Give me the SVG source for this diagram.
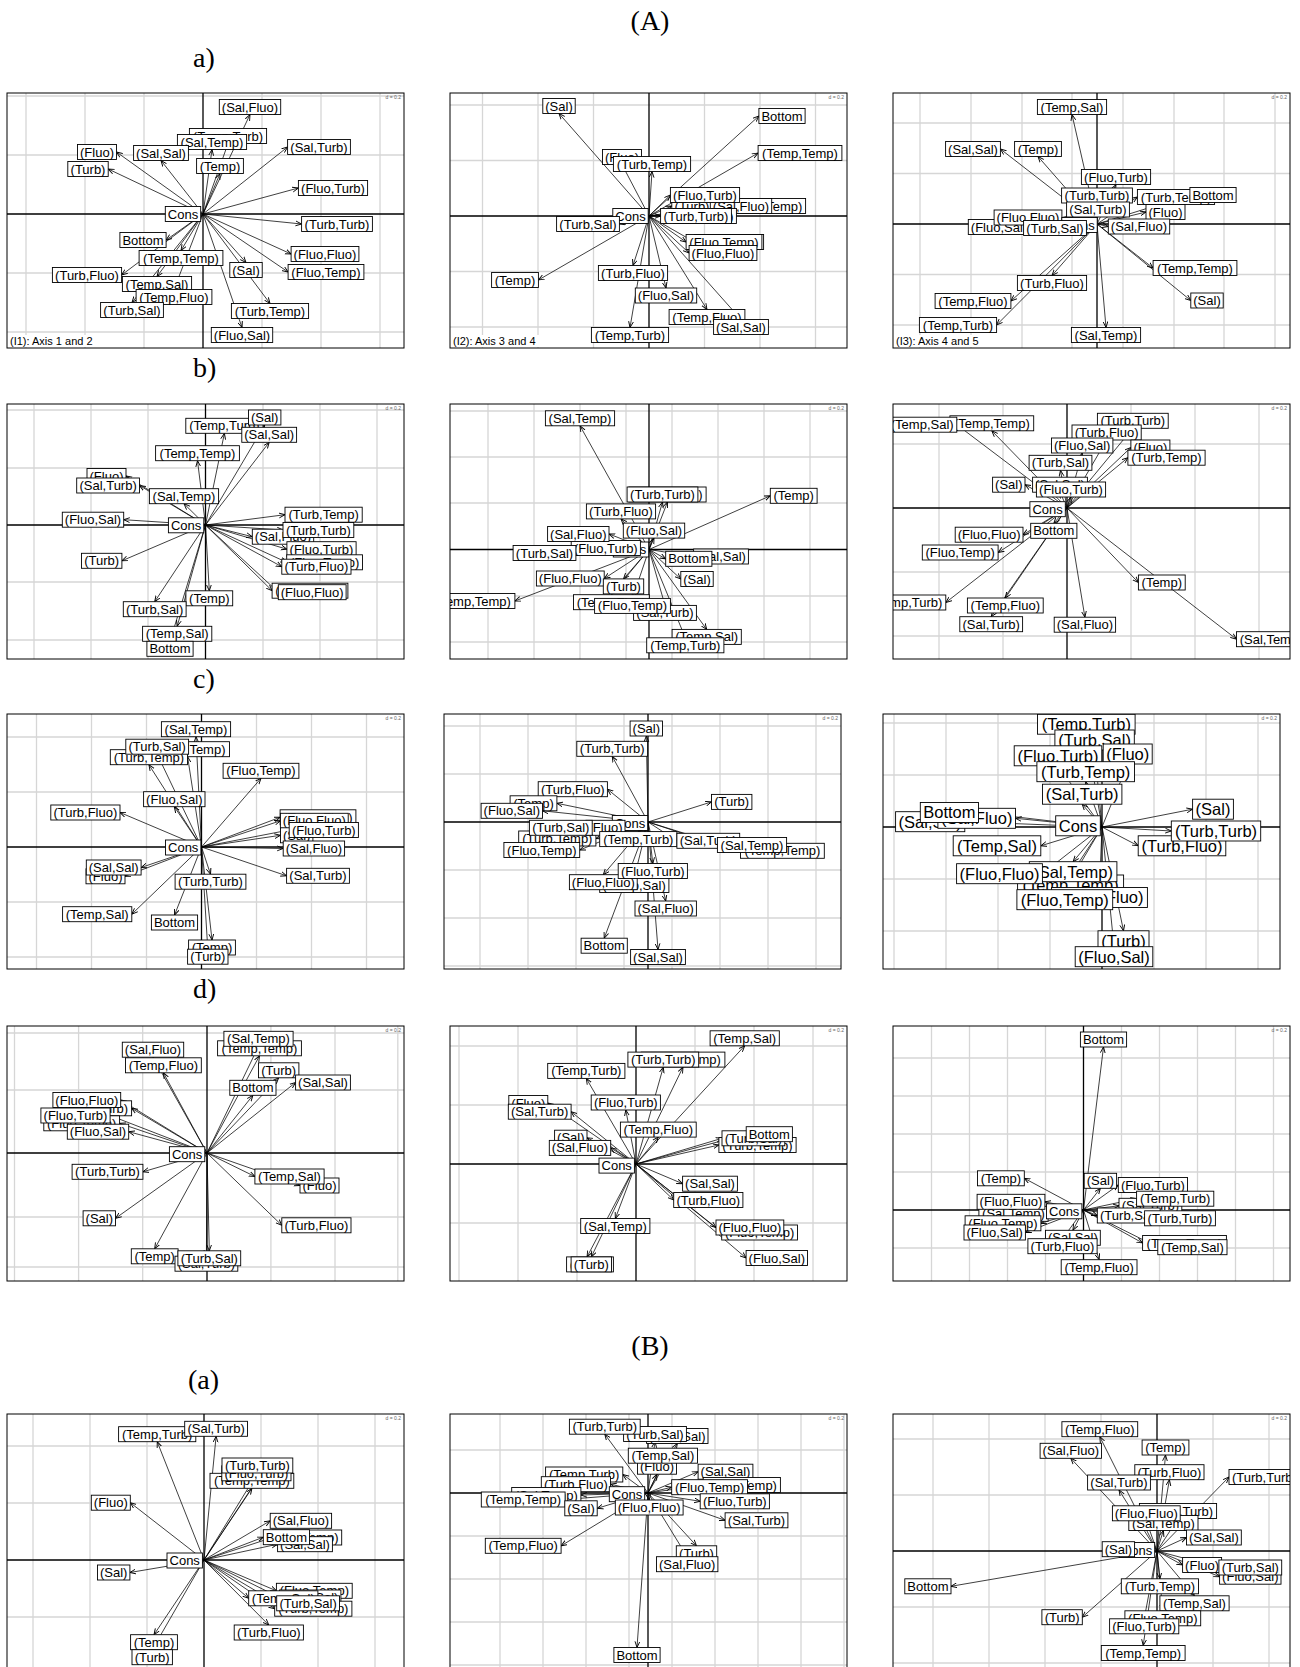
<svg xmlns="http://www.w3.org/2000/svg" width="1300" height="1667" viewBox="0 0 1300 1667">
<style>
.bg{fill:#fff}
.g{stroke:#d6d6d6;stroke-width:1.3;fill:none}
.ax{stroke:#000;stroke-width:1.3;fill:none}
.fr{fill:none;stroke:#000;stroke-width:1}
.ar line{stroke:#000;stroke-width:.75;marker-end:url(#ah)}
.lb rect{fill:#fff;stroke:#000;stroke-width:.9}
.lb text{font-family:"Liberation Sans",Arial,sans-serif;font-size:13px;text-anchor:middle;fill:#000}
.big text{font-size:16.5px}
.cap{font-family:"Liberation Sans",Arial,sans-serif;font-size:11px;fill:#000}
.dd{font-family:"Liberation Sans",Arial,sans-serif;font-size:5px;fill:#666;text-anchor:end}
.ttl{font-family:"Liberation Serif","Times New Roman",serif;font-size:28px;fill:#000}
</style>
<defs>
<marker id="ah" markerWidth="7" markerHeight="7" refX="6" refY="3" orient="auto" markerUnits="userSpaceOnUse"><path d="M0,0.6 L6,3 L0,5.4" fill="none" stroke="#000" stroke-width=".9"/></marker>
<clipPath id="ca1"><rect x="7" y="93" width="397" height="255"/></clipPath>
<clipPath id="ca2"><rect x="450" y="93" width="397" height="255"/></clipPath>
<clipPath id="ca3"><rect x="893" y="93" width="397" height="255"/></clipPath>
<clipPath id="cb1"><rect x="7" y="404" width="397" height="255"/></clipPath>
<clipPath id="cb2"><rect x="450" y="404" width="397" height="255"/></clipPath>
<clipPath id="cb3"><rect x="893" y="404" width="397" height="255"/></clipPath>
<clipPath id="cc1"><rect x="7" y="714" width="397" height="255"/></clipPath>
<clipPath id="cc2"><rect x="444" y="714" width="397" height="255"/></clipPath>
<clipPath id="cc3"><rect x="883" y="714" width="397" height="255"/></clipPath>
<clipPath id="cd1"><rect x="7" y="1026" width="397" height="255"/></clipPath>
<clipPath id="cd2"><rect x="450" y="1026" width="397" height="255"/></clipPath>
<clipPath id="cd3"><rect x="893" y="1026" width="397" height="255"/></clipPath>
<clipPath id="ce1"><rect x="7" y="1414" width="397" height="255"/></clipPath>
<clipPath id="ce2"><rect x="450" y="1414" width="397" height="255"/></clipPath>
<clipPath id="ce3"><rect x="893" y="1414" width="397" height="255"/></clipPath>
</defs>
<rect class="bg" x="0" y="0" width="1300" height="1667"/>

<g id="titles">
<text class="ttl" x="650" y="30" text-anchor="middle">(A)</text>
<text class="ttl" x="193" y="67">a)</text>
<text class="ttl" x="193" y="377">b)</text>
<text class="ttl" x="193" y="688">c)</text>
<text class="ttl" x="193" y="998">d)</text>
<text class="ttl" x="650" y="1355" text-anchor="middle">(B)</text>
<text class="ttl" x="188" y="1389">(a)</text>
</g>

<!-- ===== a1 ===== -->
<g id="panel-a1" clip-path="url(#ca1)">
<path class="g" d="M26 93V348M85 93V348M144 93V348M262 93V348M321 93V348M380 93V348M7 96H404M7 155H404M7 273H404M7 332H404"/>
<path class="ax" d="M203 93V348M7 214H404"/>
<g id="conn-a1" class="ar">
<line x1="203" y1="214" x2="250" y2="114.5"/><line x1="203" y1="214" x2="228" y2="143.5"/><line x1="203" y1="214" x2="212" y2="149.5"/><line x1="203" y1="214" x2="161" y2="160.5"/><line x1="203" y1="214" x2="116.5" y2="152"/><line x1="203" y1="214" x2="108.2" y2="169"/><line x1="203" y1="214" x2="220" y2="173.5"/><line x1="203" y1="214" x2="287.6" y2="147"/><line x1="203" y1="214" x2="298.4" y2="188"/><line x1="203" y1="214" x2="301.6" y2="224"/><line x1="203" y1="214" x2="166.1" y2="240"/><line x1="203" y1="214" x2="181" y2="250.5"/><line x1="203" y1="214" x2="291.1" y2="254"/><line x1="203" y1="214" x2="288.1" y2="272"/><line x1="203" y1="214" x2="246" y2="262.5"/><line x1="203" y1="214" x2="121.6" y2="275"/><line x1="203" y1="214" x2="157" y2="276.5"/><line x1="203" y1="214" x2="174" y2="289.5"/><line x1="203" y1="214" x2="132" y2="302.5"/><line x1="203" y1="214" x2="270" y2="303.5"/><line x1="203" y1="214" x2="242" y2="327.5"/>
</g>
<g class="lb">
<g id="a1-1"><rect x="219.3" y="99.5" width="61.4" height="15"/><text x="250" y="111.5">(Sal,Fluo)</text></g>
<g id="a1-2"><rect x="189.4" y="128.5" width="77.2" height="15"/><text x="228" y="140.5">(Temp,Turb)</text></g>
<g id="a1-3"><rect x="177.4" y="134.5" width="69.2" height="15"/><text x="212" y="146.5">(Sal,Temp)</text></g>
<g id="a1-4"><rect x="133.6" y="145.5" width="54.8" height="15"/><text x="161" y="157.5">(Sal,Sal)</text></g>
<g id="a1-5"><rect x="77.5" y="144.5" width="39" height="15"/><text x="97" y="156.5">(Fluo)</text></g>
<g id="a1-6"><rect x="67.8" y="161.5" width="40.4" height="15"/><text x="88" y="173.5">(Turb)</text></g>
<g id="a1-7"><rect x="196.6" y="158.5" width="46.8" height="15"/><text x="220" y="170.5">(Temp)</text></g>
<g id="a1-8"><rect x="287.6" y="139.5" width="62.8" height="15"/><text x="319" y="151.5">(Sal,Turb)</text></g>
<g id="a1-9"><rect x="298.4" y="180.5" width="69.2" height="15"/><text x="333" y="192.5">(Fluo,Turb)</text></g>
<g id="a1-10"><rect x="165.3" y="206.5" width="35.4" height="15"/><text x="183" y="218.5">Cons</text></g>
<g id="a1-11"><rect x="301.6" y="216.5" width="70.8" height="15"/><text x="337" y="228.5">(Turb,Turb)</text></g>
<g id="a1-12"><rect x="119.9" y="232.5" width="46.2" height="15"/><text x="143" y="244.5">Bottom</text></g>
<g id="a1-13"><rect x="139.1" y="250.5" width="83.8" height="15"/><text x="181" y="262.5">(Temp,Temp)</text></g>
<g id="a1-14"><rect x="291.1" y="246.5" width="67.8" height="15"/><text x="325" y="258.5">(Fluo,Fluo)</text></g>
<g id="a1-15"><rect x="288.1" y="264.5" width="75.8" height="15"/><text x="326" y="276.5">(Fluo,Temp)</text></g>
<g id="a1-16"><rect x="229.8" y="262.5" width="32.4" height="15"/><text x="246" y="274.5">(Sal)</text></g>
<g id="a1-17"><rect x="52.4" y="267.5" width="69.2" height="15"/><text x="87" y="279.5">(Turb,Fluo)</text></g>
<g id="a1-18"><rect x="122.4" y="276.5" width="69.2" height="15"/><text x="157" y="288.5">(Temp,Sal)</text></g>
<g id="a1-19"><rect x="136.1" y="289.5" width="75.8" height="15"/><text x="174" y="301.5">(Temp,Fluo)</text></g>
<g id="a1-20"><rect x="100.6" y="302.5" width="62.8" height="15"/><text x="132" y="314.5">(Turb,Sal)</text></g>
<g id="a1-21"><rect x="231.4" y="303.5" width="77.2" height="15"/><text x="270" y="315.5">(Turb,Temp)</text></g>
<g id="a1-22"><rect x="211.3" y="327.5" width="61.4" height="15"/><text x="242" y="339.5">(Fluo,Sal)</text></g>
</g>
<rect x="8" y="335" width="91" height="12" fill="#fff"/>
<text class="cap" x="10" y="345">(I1): Axis 1 and 2</text>
<text class="dd" x="401" y="99">d = 0.2</text>
</g>
<rect class="fr" x="7" y="93" width="397" height="255"/>

<!-- ===== a2 ===== -->
<g id="panel-a2" clip-path="url(#ca2)">
<path class="g" d="M482.5 93V348M538 93V348M593.5 93V348M704.5 93V348M760 93V348M815.5 93V348M450 105H847M450 160.5H847M450 271.5H847M450 327H847"/>
<path class="ax" d="M649 93V348M450 216H847"/>
<g id="conn-a2" class="ar">
<line x1="649" y1="216" x2="559" y2="113.5"/><line x1="649" y1="216" x2="758.9" y2="116"/><line x1="649" y1="216" x2="758.1" y2="153"/><line x1="649" y1="216" x2="622" y2="164.5"/><line x1="649" y1="216" x2="652" y2="171.5"/><line x1="649" y1="216" x2="736.4" y2="206"/><line x1="649" y1="216" x2="671.8" y2="206"/><line x1="649" y1="216" x2="710.3" y2="206"/><line x1="649" y1="216" x2="670.4" y2="195"/><line x1="649" y1="216" x2="673.6" y2="216"/><line x1="649" y1="216" x2="660.6" y2="216"/><line x1="649" y1="216" x2="619.4" y2="224"/><line x1="649" y1="216" x2="694.4" y2="242"/><line x1="649" y1="216" x2="686.1" y2="242"/><line x1="649" y1="216" x2="689.1" y2="253"/><line x1="649" y1="216" x2="538.4" y2="280"/><line x1="649" y1="216" x2="633" y2="265.5"/><line x1="649" y1="216" x2="666" y2="288"/><line x1="649" y1="216" x2="707" y2="309.5"/><line x1="649" y1="216" x2="741" y2="319.5"/><line x1="649" y1="216" x2="630" y2="327.5"/>
</g>
<g class="lb">
<g id="a2-1"><rect x="542.8" y="98.5" width="32.4" height="15"/><text x="559" y="110.5">(Sal)</text></g>
<g id="a2-2"><rect x="758.9" y="108.5" width="46.2" height="15"/><text x="782" y="120.5">Bottom</text></g>
<g id="a2-3"><rect x="758.1" y="145.5" width="83.8" height="15"/><text x="800" y="157.5">(Temp,Temp)</text></g>
<g id="a2-4"><rect x="602.5" y="149.5" width="39" height="15"/><text x="622" y="161.5">(Fluo)</text></g>
<g id="a2-5"><rect x="613.4" y="156.5" width="77.2" height="15"/><text x="652" y="168.5">(Turb,Temp)</text></g>
<g id="a2-6"><rect x="736.4" y="198.5" width="69.2" height="15"/><text x="771" y="210.5">(Sal,Temp)</text></g>
<g id="a2-7"><rect x="671.8" y="198.5" width="40.4" height="15"/><text x="692" y="210.5">(Turb)</text></g>
<g id="a2-8"><rect x="710.3" y="198.5" width="61.4" height="15"/><text x="741" y="210.5">(Sal,Fluo)</text></g>
<g id="a2-9"><rect x="670.4" y="187.5" width="69.2" height="15"/><text x="705" y="199.5">(Fluo,Turb)</text></g>
<g id="a2-10"><rect x="673.6" y="208.5" width="62.8" height="15"/><text x="705" y="220.5">(Sal,Turb)</text></g>
<g id="a2-11"><rect x="612.8" y="208.5" width="35.4" height="15"/><text x="630.5" y="220.5">Cons</text></g>
<g id="a2-12"><rect x="660.6" y="208.5" width="70.8" height="15"/><text x="696" y="220.5">(Turb,Turb)</text></g>
<g id="a2-13"><rect x="556.6" y="216.5" width="62.8" height="15"/><text x="588" y="228.5">(Turb,Sal)</text></g>
<g id="a2-14"><rect x="694.4" y="234.5" width="69.2" height="15"/><text x="729" y="246.5">(Temp,Sal)</text></g>
<g id="a2-15"><rect x="686.1" y="234.5" width="75.8" height="15"/><text x="724" y="246.5">(Fluo,Temp)</text></g>
<g id="a2-16"><rect x="689.1" y="245.5" width="67.8" height="15"/><text x="723" y="257.5">(Fluo,Fluo)</text></g>
<g id="a2-17"><rect x="491.6" y="272.5" width="46.8" height="15"/><text x="515" y="284.5">(Temp)</text></g>
<g id="a2-18"><rect x="598.4" y="265.5" width="69.2" height="15"/><text x="633" y="277.5">(Turb,Fluo)</text></g>
<g id="a2-19"><rect x="635.3" y="288" width="61.4" height="15"/><text x="666" y="300">(Fluo,Sal)</text></g>
<g id="a2-20"><rect x="669.1" y="309.5" width="75.8" height="15"/><text x="707" y="321.5">(Temp,Fluo)</text></g>
<g id="a2-21"><rect x="713.6" y="319.5" width="54.8" height="15"/><text x="741" y="331.5">(Sal,Sal)</text></g>
<g id="a2-22"><rect x="591.4" y="327.5" width="77.2" height="15"/><text x="630" y="339.5">(Temp,Turb)</text></g>
</g>
<rect x="451" y="335" width="91" height="12" fill="#fff"/>
<text class="cap" x="453" y="345">(I2): Axis 3 and 4</text>
<text class="dd" x="844" y="99">d = 0.2</text>
</g>
<rect class="fr" x="450" y="93" width="397" height="255"/>

<!-- ===== a3 ===== -->
<g id="panel-a3" clip-path="url(#ca3)">
<path class="g" d="M920 93V348M971 93V348M1022 93V348M1072 93V348M1123 93V348M1174 93V348M1224 93V348M1275 93V348M893 123H1290M893 173.5H1290M893 274.5H1290M893 325H1290"/>
<path class="ax" d="M1097 93V348M893 224H1290"/>
<g id="conn-a3" class="ar">
<line x1="1097" y1="224" x2="1072" y2="114.5"/><line x1="1097" y1="224" x2="1000.4" y2="149"/><line x1="1097" y1="224" x2="1038" y2="156.5"/><line x1="1097" y1="224" x2="1116" y2="184.5"/><line x1="1097" y1="224" x2="1097" y2="203"/><line x1="1097" y1="224" x2="1137.4" y2="197"/><line x1="1097" y1="224" x2="1189.9" y2="195"/><line x1="1097" y1="224" x2="1146" y2="212"/><line x1="1097" y1="224" x2="1029.7" y2="227"/><line x1="1097" y1="224" x2="1061.9" y2="217.5"/><line x1="1097" y1="224" x2="1108.3" y2="226.5"/><line x1="1097" y1="224" x2="1153.1" y2="268"/><line x1="1097" y1="224" x2="1052" y2="275.5"/><line x1="1097" y1="224" x2="1190.8" y2="300.5"/><line x1="1097" y1="224" x2="1010.9" y2="301"/><line x1="1097" y1="224" x2="996.6" y2="325"/><line x1="1097" y1="224" x2="1106" y2="327.5"/>
</g>
<g class="lb">
<g id="a3-1"><rect x="1037.4" y="99.5" width="69.2" height="15"/><text x="1072" y="111.5">(Temp,Sal)</text></g>
<g id="a3-2"><rect x="945.6" y="141.5" width="54.8" height="15"/><text x="973" y="153.5">(Sal,Sal)</text></g>
<g id="a3-3"><rect x="1014.6" y="141.5" width="46.8" height="15"/><text x="1038" y="153.5">(Temp)</text></g>
<g id="a3-4"><rect x="1081.4" y="169.5" width="69.2" height="15"/><text x="1116" y="181.5">(Fluo,Turb)</text></g>
<g id="a3-5"><rect x="1061.6" y="188" width="70.8" height="15"/><text x="1097" y="200">(Turb,Turb)</text></g>
<g id="a3-6"><rect x="1137.4" y="189.5" width="77.2" height="15"/><text x="1176" y="201.5">(Turb,Temp)</text></g>
<g id="a3-7"><rect x="1189.9" y="187.5" width="46.2" height="15"/><text x="1213" y="199.5">Bottom</text></g>
<g id="a3-8"><rect x="1066.6" y="202" width="62.8" height="15"/><text x="1098" y="214">(Sal,Turb)</text></g>
<g id="a3-9"><rect x="1146" y="204.5" width="39" height="15"/><text x="1165.5" y="216.5">(Fluo)</text></g>
<g id="a3-10"><rect x="968.3" y="219.5" width="61.4" height="15"/><text x="999" y="231.5">(Fluo,Sal)</text></g>
<g id="a3-11"><rect x="994.1" y="210" width="67.8" height="15"/><text x="1028" y="222">(Fluo,Fluo)</text></g>
<g id="a3-12"><rect x="1061.8" y="217.5" width="35.4" height="15"/><text x="1079.5" y="229.5">Cons</text></g>
<g id="a3-13"><rect x="1023.6" y="220.5" width="62.8" height="15"/><text x="1055" y="232.5">(Turb,Sal)</text></g>
<g id="a3-14"><rect x="1108.3" y="219" width="61.4" height="15"/><text x="1139" y="231">(Sal,Fluo)</text></g>
<g id="a3-15"><rect x="1153.1" y="260.5" width="83.8" height="15"/><text x="1195" y="272.5">(Temp,Temp)</text></g>
<g id="a3-16"><rect x="1017.4" y="275.5" width="69.2" height="15"/><text x="1052" y="287.5">(Turb,Fluo)</text></g>
<g id="a3-17"><rect x="1190.8" y="293" width="32.4" height="15"/><text x="1207" y="305">(Sal)</text></g>
<g id="a3-18"><rect x="935.1" y="293.5" width="75.8" height="15"/><text x="973" y="305.5">(Temp,Fluo)</text></g>
<g id="a3-19"><rect x="919.4" y="317.5" width="77.2" height="15"/><text x="958" y="329.5">(Temp,Turb)</text></g>
<g id="a3-20"><rect x="1071.4" y="327.5" width="69.2" height="15"/><text x="1106" y="339.5">(Sal,Temp)</text></g>
</g>
<rect x="894" y="335" width="91" height="12" fill="#fff"/>
<text class="cap" x="896" y="345">(I3): Axis 4 and 5</text>
<text class="dd" x="1287" y="99">d = 0.2</text>
</g>
<rect class="fr" x="893" y="93" width="397" height="255"/>

<!-- ===== b1 ===== -->
<g id="panel-b1" clip-path="url(#cb1)">
<path class="g" d="M34 404V659M91 404V659M148 404V659M263 404V659M320 404V659M377 404V659M7 410H404M7 468H404M7 582H404M7 640H404"/>
<path class="ax" d="M205.5 404V659M7 525H404"/>
<g id="conn-b1" class="ar">
<line x1="205.5" y1="525" x2="224.4" y2="433.3"/><line x1="205.5" y1="525" x2="264.7" y2="425"/><line x1="205.5" y1="525" x2="269.2" y2="442.3"/><line x1="205.5" y1="525" x2="197.5" y2="460.7"/><line x1="205.5" y1="525" x2="126" y2="476"/><line x1="205.5" y1="525" x2="139.5" y2="485.5"/><line x1="205.5" y1="525" x2="184" y2="503.7"/><line x1="205.5" y1="525" x2="252.3" y2="536.7"/><line x1="205.5" y1="525" x2="285" y2="514.7"/><line x1="205.5" y1="525" x2="283" y2="530"/><line x1="205.5" y1="525" x2="286.9" y2="549.2"/><line x1="205.5" y1="525" x2="286.7" y2="562.3"/><line x1="205.5" y1="525" x2="281.8" y2="566.7"/><line x1="205.5" y1="525" x2="272.1" y2="590.7"/><line x1="205.5" y1="525" x2="278.3" y2="592.2"/><line x1="205.5" y1="525" x2="123.7" y2="519.7"/><line x1="205.5" y1="525" x2="121.9" y2="560.8"/><line x1="205.5" y1="525" x2="209.3" y2="590.8"/><line x1="205.5" y1="525" x2="154.7" y2="601.7"/><line x1="205.5" y1="525" x2="177.2" y2="626.3"/><line x1="205.5" y1="525" x2="170" y2="641.3"/>
</g>
<g class="lb">
<g id="b1-1"><rect x="185.8" y="418.3" width="77.2" height="15"/><text x="224.4" y="430.3">(Temp,Turb)</text></g>
<g id="b1-2"><rect x="248.5" y="410" width="32.4" height="15"/><text x="264.7" y="422">(Sal)</text></g>
<g id="b1-3"><rect x="241.8" y="427.3" width="54.8" height="15"/><text x="269.2" y="439.3">(Sal,Sal)</text></g>
<g id="b1-4"><rect x="155.6" y="445.7" width="83.8" height="15"/><text x="197.5" y="457.7">(Temp,Temp)</text></g>
<g id="b1-5"><rect x="87" y="468.5" width="39" height="15"/><text x="106.5" y="480.5">(Fluo)</text></g>
<g id="b1-6"><rect x="76.7" y="478" width="62.8" height="15"/><text x="108.1" y="490">(Sal,Turb)</text></g>
<g id="b1-7"><rect x="149.4" y="488.7" width="69.2" height="15"/><text x="184" y="500.7">(Sal,Temp)</text></g>
<g id="b1-8"><rect x="252.3" y="529.2" width="61.4" height="15"/><text x="283" y="541.2">(Sal,Fluo)</text></g>
<g id="b1-9"><rect x="285" y="507.2" width="77.2" height="15"/><text x="323.6" y="519.2">(Turb,Temp)</text></g>
<g id="b1-10"><rect x="283" y="522.5" width="70.8" height="15"/><text x="318.4" y="534.5">(Turb,Turb)</text></g>
<g id="b1-11"><rect x="286.9" y="541.7" width="69.2" height="15"/><text x="321.5" y="553.7">(Fluo,Turb)</text></g>
<g id="b1-12"><rect x="286.7" y="554.8" width="75.8" height="15"/><text x="324.6" y="566.8">(Fluo,Temp)</text></g>
<g id="b1-13"><rect x="281.8" y="559.2" width="69.2" height="15"/><text x="316.4" y="571.2">(Turb,Fluo)</text></g>
<g id="b1-14"><rect x="272.1" y="583.2" width="75.8" height="15"/><text x="310" y="595.2">(Temp,Fluo)</text></g>
<g id="b1-15"><rect x="278.3" y="584.7" width="67.8" height="15"/><text x="312.2" y="596.7">(Fluo,Fluo)</text></g>
<g id="b1-16"><rect x="62.3" y="512.2" width="61.4" height="15"/><text x="93" y="524.2">(Fluo,Sal)</text></g>
<g id="b1-17"><rect x="168.4" y="517.8" width="35.4" height="15"/><text x="186.1" y="529.8">Cons</text></g>
<g id="b1-18"><rect x="81.5" y="553.3" width="40.4" height="15"/><text x="101.7" y="565.3">(Turb)</text></g>
<g id="b1-19"><rect x="185.9" y="590.8" width="46.8" height="15"/><text x="209.3" y="602.8">(Temp)</text></g>
<g id="b1-20"><rect x="123.3" y="601.7" width="62.8" height="15"/><text x="154.7" y="613.7">(Turb,Sal)</text></g>
<g id="b1-21"><rect x="142.6" y="626.3" width="69.2" height="15"/><text x="177.2" y="638.3">(Temp,Sal)</text></g>
<g id="b1-22"><rect x="146.9" y="641.3" width="46.2" height="15"/><text x="170" y="653.3">Bottom</text></g>
</g>
<text class="dd" x="401" y="410">d = 0.2</text>
</g>
<rect class="fr" x="7" y="404" width="397" height="255"/>

<!-- ===== b2 ===== -->
<g id="panel-b2" clip-path="url(#cb2)">
<path class="g" d="M488 404V659M534 404V659M580 404V659M626 404V659M672 404V659M718 404V659M764 404V659M810 404V659M450 411H847M450 457H847M450 503H847M450 596H847M450 642H847"/>
<path class="ax" d="M649 404V659M450 549.5H847"/>
<g id="conn-b2" class="ar">
<line x1="649" y1="549.5" x2="580" y2="425.8"/><line x1="649" y1="549.5" x2="667.5" y2="502"/><line x1="649" y1="549.5" x2="662.5" y2="502"/><line x1="649" y1="549.5" x2="621" y2="518.9"/><line x1="649" y1="549.5" x2="654" y2="538.1"/><line x1="649" y1="549.5" x2="609" y2="534"/><line x1="649" y1="549.5" x2="640.4" y2="548"/><line x1="649" y1="549.5" x2="575.9" y2="553"/><line x1="649" y1="549.5" x2="770.3" y2="495.8"/><line x1="649" y1="549.5" x2="693.6" y2="556.5"/><line x1="649" y1="549.5" x2="665.7" y2="558.8"/><line x1="649" y1="549.5" x2="604.2" y2="578.5"/><line x1="649" y1="549.5" x2="680.8" y2="579"/><line x1="649" y1="549.5" x2="623.5" y2="578.9"/><line x1="649" y1="549.5" x2="611.4" y2="594.7"/><line x1="649" y1="549.5" x2="665" y2="605.4"/><line x1="649" y1="549.5" x2="632.5" y2="598.4"/><line x1="649" y1="549.5" x2="706.7" y2="629.4"/><line x1="649" y1="549.5" x2="685.3" y2="637.8"/><line x1="649" y1="549.5" x2="514.9" y2="601"/>
</g>
<g class="lb">
<g id="b2-1"><rect x="545.4" y="410.8" width="69.2" height="15"/><text x="580" y="422.8">(Sal,Temp)</text></g>
<g id="b2-2"><rect x="628.9" y="487" width="77.2" height="15"/><text x="667.5" y="499">(Turb,Temp)</text></g>
<g id="b2-3"><rect x="627.1" y="487" width="70.8" height="15"/><text x="662.5" y="499">(Turb,Turb)</text></g>
<g id="b2-4"><rect x="586.4" y="503.9" width="69.2" height="15"/><text x="621" y="515.9">(Turb,Fluo)</text></g>
<g id="b2-5"><rect x="623.3" y="523.1" width="61.4" height="15"/><text x="654" y="535.1">(Fluo,Sal)</text></g>
<g id="b2-6"><rect x="613.3" y="542" width="35.4" height="15"/><text x="631" y="554">Cons</text></g>
<g id="b2-7"><rect x="571.2" y="540.5" width="69.2" height="15"/><text x="605.8" y="552.5">(Fluo,Turb)</text></g>
<g id="b2-8"><rect x="547.6" y="526.5" width="61.4" height="15"/><text x="578.3" y="538.5">(Sal,Fluo)</text></g>
<g id="b2-9"><rect x="513.1" y="545.5" width="62.8" height="15"/><text x="544.5" y="557.5">(Turb,Sal)</text></g>
<g id="b2-10"><rect x="770.3" y="488.3" width="46.8" height="15"/><text x="793.7" y="500.3">(Temp)</text></g>
<g id="b2-11"><rect x="693.6" y="549" width="54.8" height="15"/><text x="721" y="561">(Sal,Sal)</text></g>
<g id="b2-12"><rect x="665.7" y="551.3" width="46.2" height="15"/><text x="688.8" y="563.3">Bottom</text></g>
<g id="b2-13"><rect x="536.4" y="571" width="67.8" height="15"/><text x="570.3" y="583">(Fluo,Fluo)</text></g>
<g id="b2-14"><rect x="680.8" y="571.5" width="32.4" height="15"/><text x="697" y="583.5">(Sal)</text></g>
<g id="b2-15"><rect x="603.3" y="578.9" width="40.4" height="15"/><text x="623.5" y="590.9">(Turb)</text></g>
<g id="b2-16"><rect x="573.5" y="594.7" width="75.8" height="15"/><text x="611.4" y="606.7">(Temp,Fluo)</text></g>
<g id="b2-17"><rect x="633.6" y="605.4" width="62.8" height="15"/><text x="665" y="617.4">(Sal,Turb)</text></g>
<g id="b2-18"><rect x="594.6" y="598.4" width="75.8" height="15"/><text x="632.5" y="610.4">(Fluo,Temp)</text></g>
<g id="b2-19"><rect x="672.1" y="629.4" width="69.2" height="15"/><text x="706.7" y="641.4">(Temp,Sal)</text></g>
<g id="b2-20"><rect x="646.7" y="637.8" width="77.2" height="15"/><text x="685.3" y="649.8">(Temp,Turb)</text></g>
<g id="b2-21"><rect x="431.1" y="593.5" width="83.8" height="15"/><text x="473" y="605.5">(Temp,Temp)</text></g>
</g>
<text class="dd" x="844" y="410">d = 0.2</text>
</g>
<rect class="fr" x="450" y="404" width="397" height="255"/>

<!-- ===== b3 ===== -->
<g id="panel-b3" clip-path="url(#cb3)">
<path class="g" d="M939 404V659M1003 404V659M1131 404V659M1195 404V659M1259 404V659M893 444H1290M893 572H1290M893 636H1290"/>
<path class="ax" d="M1067 404V659M893 508H1290"/>
<g id="conn-b3" class="ar">
<line x1="1067" y1="508" x2="956.8" y2="424.7"/><line x1="1067" y1="508" x2="991.8" y2="430.8"/><line x1="1067" y1="508" x2="1132.8" y2="428.3"/><line x1="1067" y1="508" x2="1106.6" y2="440"/><line x1="1067" y1="508" x2="1082.2" y2="453"/><line x1="1067" y1="508" x2="1130.9" y2="447.5"/><line x1="1067" y1="508" x2="1127.9" y2="457.7"/><line x1="1067" y1="508" x2="1060.5" y2="470.3"/><line x1="1067" y1="508" x2="1025" y2="484.7"/><line x1="1067" y1="508" x2="1060" y2="492.2"/><line x1="1067" y1="508" x2="1071" y2="497"/><line x1="1067" y1="508" x2="1053.8" y2="523.3"/><line x1="1067" y1="508" x2="1023" y2="534.7"/><line x1="1067" y1="508" x2="998.1" y2="552.5"/><line x1="1067" y1="508" x2="1138.4" y2="582.5"/><line x1="1067" y1="508" x2="945.8" y2="602.5"/><line x1="1067" y1="508" x2="1005.3" y2="598"/><line x1="1067" y1="508" x2="991.2" y2="616.7"/><line x1="1067" y1="508" x2="1084.9" y2="617.2"/><line x1="1067" y1="508" x2="1236.5" y2="639.2"/>
</g>
<g class="lb">
<g id="b3-1"><rect x="949.9" y="415.8" width="83.8" height="15"/><text x="991.8" y="427.8">(Temp,Temp)</text></g>
<g id="b3-2"><rect x="887.6" y="417.2" width="69.2" height="15"/><text x="922.2" y="429.2">(Temp,Sal)</text></g>
<g id="b3-3"><rect x="1097.4" y="413.3" width="70.8" height="15"/><text x="1132.8" y="425.3">(Turb,Turb)</text></g>
<g id="b3-4"><rect x="1072" y="425" width="69.2" height="15"/><text x="1106.6" y="437">(Turb,Fluo)</text></g>
<g id="b3-5"><rect x="1051.5" y="438" width="61.4" height="15"/><text x="1082.2" y="450">(Fluo,Sal)</text></g>
<g id="b3-6"><rect x="1130.9" y="440" width="39" height="15"/><text x="1150.4" y="452">(Fluo)</text></g>
<g id="b3-7"><rect x="1127.9" y="450.2" width="77.2" height="15"/><text x="1166.5" y="462.2">(Turb,Temp)</text></g>
<g id="b3-8"><rect x="1029.1" y="455.3" width="62.8" height="15"/><text x="1060.5" y="467.3">(Turb,Sal)</text></g>
<g id="b3-9"><rect x="992.6" y="477.2" width="32.4" height="15"/><text x="1008.8" y="489.2">(Sal)</text></g>
<g id="b3-10"><rect x="1032.6" y="477.2" width="54.8" height="15"/><text x="1060" y="489.2">(Sal,Sal)</text></g>
<g id="b3-11"><rect x="1036.4" y="482" width="69.2" height="15"/><text x="1071" y="494">(Fluo,Turb)</text></g>
<g id="b3-12"><rect x="1029.9" y="501.7" width="35.4" height="15"/><text x="1047.6" y="513.7">Cons</text></g>
<g id="b3-13"><rect x="1030.7" y="523.3" width="46.2" height="15"/><text x="1053.8" y="535.3">Bottom</text></g>
<g id="b3-14"><rect x="955.2" y="527.2" width="67.8" height="15"/><text x="989.1" y="539.2">(Fluo,Fluo)</text></g>
<g id="b3-15"><rect x="922.3" y="545" width="75.8" height="15"/><text x="960.2" y="557">(Fluo,Temp)</text></g>
<g id="b3-16"><rect x="1138.4" y="575" width="46.8" height="15"/><text x="1161.8" y="587">(Temp)</text></g>
<g id="b3-17"><rect x="868.6" y="595" width="77.2" height="15"/><text x="907.2" y="607">(Temp,Turb)</text></g>
<g id="b3-18"><rect x="967.4" y="598" width="75.8" height="15"/><text x="1005.3" y="610">(Temp,Fluo)</text></g>
<g id="b3-19"><rect x="959.8" y="616.7" width="62.8" height="15"/><text x="991.2" y="628.7">(Sal,Turb)</text></g>
<g id="b3-20"><rect x="1054.2" y="617.2" width="61.4" height="15"/><text x="1084.9" y="629.2">(Sal,Fluo)</text></g>
<g id="b3-21"><rect x="1236.5" y="631.7" width="69.2" height="15"/><text x="1271.1" y="643.7">(Sal,Temp)</text></g>
</g>
<text class="dd" x="1287" y="410">d = 0.2</text>
</g>
<rect class="fr" x="893" y="404" width="397" height="255"/>

<!-- ===== c1 ===== -->
<g id="panel-c1" clip-path="url(#cc1)">
<path class="g" d="M36.5 714V969M91.5 714V969M146.5 714V969M256.5 714V969M311.5 714V969M366.5 714V969M7 737H404M7 792H404M7 902H404M7 957H404"/>
<path class="ax" d="M201.5 714V969M7 847H404"/>
<g id="conn-c1" class="ar">
<line x1="201.5" y1="847" x2="196" y2="736.7"/><line x1="201.5" y1="847" x2="187.6" y2="756.7"/><line x1="201.5" y1="847" x2="148.9" y2="764.7"/><line x1="201.5" y1="847" x2="157.2" y2="754.2"/><line x1="201.5" y1="847" x2="261" y2="778.3"/><line x1="201.5" y1="847" x2="174.3" y2="806.7"/><line x1="201.5" y1="847" x2="120" y2="812.5"/><line x1="201.5" y1="847" x2="280.1" y2="817.3"/><line x1="201.5" y1="847" x2="280.4" y2="820.8"/><line x1="201.5" y1="847" x2="280.5" y2="835.3"/><line x1="201.5" y1="847" x2="289.2" y2="830"/><line x1="201.5" y1="847" x2="283.2" y2="848.5"/><line x1="201.5" y1="847" x2="286.6" y2="875.8"/><line x1="201.5" y1="847" x2="125" y2="876.3"/><line x1="201.5" y1="847" x2="141.1" y2="867.5"/><line x1="201.5" y1="847" x2="210.5" y2="874.2"/><line x1="201.5" y1="847" x2="131.8" y2="914.2"/><line x1="201.5" y1="847" x2="174.5" y2="915"/><line x1="201.5" y1="847" x2="212" y2="940"/><line x1="201.5" y1="847" x2="207.8" y2="949.2"/>
</g>
<g class="lb">
<g id="c1-1"><rect x="145.7" y="741.7" width="83.8" height="15"/><text x="187.6" y="753.7">(Temp,Temp)</text></g>
<g id="c1-2"><rect x="110.3" y="749.7" width="77.2" height="15"/><text x="148.9" y="761.7">(Turb,Temp)</text></g>
<g id="c1-3"><rect x="125.8" y="739.2" width="62.8" height="15"/><text x="157.2" y="751.2">(Turb,Sal)</text></g>
<g id="c1-4"><rect x="161.4" y="721.7" width="69.2" height="15"/><text x="196" y="733.7">(Sal,Temp)</text></g>
<g id="c1-5"><rect x="223.1" y="763.3" width="75.8" height="15"/><text x="261" y="775.3">(Fluo,Temp)</text></g>
<g id="c1-6"><rect x="143.6" y="791.7" width="61.4" height="15"/><text x="174.3" y="803.7">(Fluo,Sal)</text></g>
<g id="c1-7"><rect x="50.8" y="805" width="69.2" height="15"/><text x="85.4" y="817">(Turb,Fluo)</text></g>
<g id="c1-8"><rect x="280.1" y="809.8" width="75.8" height="15"/><text x="318" y="821.8">(Temp,Fluo)</text></g>
<g id="c1-9"><rect x="280.4" y="813.3" width="67.8" height="15"/><text x="314.3" y="825.3">(Fluo,Fluo)</text></g>
<g id="c1-10"><rect x="280.5" y="827.8" width="32.4" height="15"/><text x="296.7" y="839.8">(Sal)</text></g>
<g id="c1-11"><rect x="289.2" y="822.5" width="69.2" height="15"/><text x="323.8" y="834.5">(Fluo,Turb)</text></g>
<g id="c1-12"><rect x="283.2" y="841" width="61.4" height="15"/><text x="313.9" y="853">(Sal,Fluo)</text></g>
<g id="c1-13"><rect x="286.6" y="868.3" width="62.8" height="15"/><text x="318" y="880.3">(Sal,Turb)</text></g>
<g id="c1-14"><rect x="165.5" y="840" width="35.4" height="15"/><text x="183.2" y="852">Cons</text></g>
<g id="c1-15"><rect x="86" y="868.8" width="39" height="15"/><text x="105.5" y="880.8">(Fluo)</text></g>
<g id="c1-16"><rect x="86.3" y="860" width="54.8" height="15"/><text x="113.7" y="872">(Sal,Sal)</text></g>
<g id="c1-17"><rect x="175.1" y="874.2" width="70.8" height="15"/><text x="210.5" y="886.2">(Turb,Turb)</text></g>
<g id="c1-18"><rect x="62.6" y="906.7" width="69.2" height="15"/><text x="97.2" y="918.7">(Temp,Sal)</text></g>
<g id="c1-19"><rect x="151.4" y="915" width="46.2" height="15"/><text x="174.5" y="927">Bottom</text></g>
<g id="c1-20"><rect x="188.6" y="940" width="46.8" height="15"/><text x="212" y="952">(Temp)</text></g>
<g id="c1-21"><rect x="187.6" y="949.2" width="40.4" height="15"/><text x="207.8" y="961.2">(Turb)</text></g>
</g>
<text class="dd" x="401" y="720">d = 0.2</text>
</g>
<rect class="fr" x="7" y="714" width="397" height="255"/>

<!-- ===== c2 ===== -->
<g id="panel-c2" clip-path="url(#cc2)">
<path class="g" d="M480 714V969M528 714V969M576 714V969M624 714V969M672 714V969M720 714V969M768 714V969M816 714V969M444 726H841M444 774H841M444 870H841M444 918H841M444 966H841"/>
<path class="ax" d="M648 714V969M444 822H841"/>
<g id="conn-c2" class="ar">
<line x1="648" y1="822" x2="646.3" y2="736"/><line x1="648" y1="822" x2="612.2" y2="756.3"/><line x1="648" y1="822" x2="607.4" y2="789.2"/><line x1="648" y1="822" x2="556.9" y2="803.3"/><line x1="648" y1="822" x2="542.5" y2="810.8"/><line x1="648" y1="822" x2="711.5" y2="801.9"/><line x1="648" y1="822" x2="625" y2="827.8"/><line x1="648" y1="822" x2="592.2" y2="827.8"/><line x1="648" y1="822" x2="595.9" y2="838.5"/><line x1="648" y1="822" x2="579.7" y2="850"/><line x1="648" y1="822" x2="638.3" y2="831.6"/><line x1="648" y1="822" x2="676.9" y2="840.8"/><line x1="648" y1="822" x2="740.5" y2="850.8"/><line x1="648" y1="822" x2="717.4" y2="845"/><line x1="648" y1="822" x2="634.3" y2="877.5"/><line x1="648" y1="822" x2="603.3" y2="874.7"/><line x1="648" y1="822" x2="652.8" y2="863.5"/><line x1="648" y1="822" x2="665.7" y2="901"/><line x1="648" y1="822" x2="604.2" y2="938.2"/><line x1="648" y1="822" x2="658" y2="949.5"/>
</g>
<g class="lb">
<g id="c2-1"><rect x="630.1" y="721" width="32.4" height="15"/><text x="646.3" y="733">(Sal)</text></g>
<g id="c2-2"><rect x="576.8" y="741.3" width="70.8" height="15"/><text x="612.2" y="753.3">(Turb,Turb)</text></g>
<g id="c2-3"><rect x="538.2" y="781.7" width="69.2" height="15"/><text x="572.8" y="793.7">(Turb,Fluo)</text></g>
<g id="c2-4"><rect x="510.1" y="795.8" width="46.8" height="15"/><text x="533.5" y="807.8">(Temp)</text></g>
<g id="c2-5"><rect x="481.1" y="803.3" width="61.4" height="15"/><text x="511.8" y="815.3">(Fluo,Sal)</text></g>
<g id="c2-6"><rect x="711.5" y="794.4" width="40.4" height="15"/><text x="731.7" y="806.4">(Turb)</text></g>
<g id="c2-7"><rect x="612.3" y="815.5" width="35.4" height="15"/><text x="630" y="827.5">Cons</text></g>
<g id="c2-8"><rect x="518.7" y="831" width="77.2" height="15"/><text x="557.3" y="843">(Turb,Temp)</text></g>
<g id="c2-9"><rect x="586" y="820.3" width="39" height="15"/><text x="605.5" y="832.3">(Fluo)</text></g>
<g id="c2-10"><rect x="529.4" y="820.3" width="62.8" height="15"/><text x="560.8" y="832.3">(Turb,Sal)</text></g>
<g id="c2-11"><rect x="503.9" y="842.5" width="75.8" height="15"/><text x="541.8" y="854.5">(Fluo,Temp)</text></g>
<g id="c2-12"><rect x="599.7" y="831.6" width="77.2" height="15"/><text x="638.3" y="843.6">(Temp,Turb)</text></g>
<g id="c2-13"><rect x="676.9" y="833.3" width="62.8" height="15"/><text x="708.3" y="845.3">(Sal,Turb)</text></g>
<g id="c2-14"><rect x="740.5" y="843.3" width="83.8" height="15"/><text x="782.4" y="855.3">(Temp,Temp)</text></g>
<g id="c2-15"><rect x="717.4" y="837.5" width="69.2" height="15"/><text x="752" y="849.5">(Sal,Temp)</text></g>
<g id="c2-16"><rect x="599.7" y="877.5" width="69.2" height="15"/><text x="634.3" y="889.5">(Temp,Sal)</text></g>
<g id="c2-17"><rect x="569.4" y="874.7" width="67.8" height="15"/><text x="603.3" y="886.7">(Fluo,Fluo)</text></g>
<g id="c2-18"><rect x="618.2" y="863.5" width="69.2" height="15"/><text x="652.8" y="875.5">(Fluo,Turb)</text></g>
<g id="c2-19"><rect x="635" y="901" width="61.4" height="15"/><text x="665.7" y="913">(Sal,Fluo)</text></g>
<g id="c2-20"><rect x="581.1" y="938.2" width="46.2" height="15"/><text x="604.2" y="950.2">Bottom</text></g>
<g id="c2-21"><rect x="630.6" y="949.5" width="54.8" height="15"/><text x="658" y="961.5">(Sal,Sal)</text></g>
</g>
<text class="dd" x="838" y="720">d = 0.2</text>
</g>
<rect class="fr" x="444" y="714" width="397" height="255"/>

<!-- ===== c3 ===== -->
<g id="panel-c3" clip-path="url(#cc3)">
<path class="g" d="M894 714V969M946 714V969M998 714V969M1050 714V969M1154 714V969M1206 714V969M1258 714V969M883 723H1280M883 775H1280M883 879H1280M883 931H1280"/>
<path class="ax" d="M1102 714V969M883 827H1280"/>
<g id="conn-c3" class="ar">
<line x1="1102" y1="827" x2="1086.3" y2="734.2"/><line x1="1102" y1="827" x2="1094.6" y2="750"/><line x1="1102" y1="827" x2="1127.7" y2="764"/><line x1="1102" y1="827" x2="1058" y2="765.8"/><line x1="1102" y1="827" x2="1085.7" y2="781.7"/><line x1="1102" y1="827" x2="1082.2" y2="804.2"/><line x1="1102" y1="827" x2="1192.6" y2="809.2"/><line x1="1102" y1="827" x2="964.8" y2="821.7"/><line x1="1102" y1="827" x2="1015.5" y2="818.3"/><line x1="1102" y1="827" x2="978.5" y2="812.5"/><line x1="1102" y1="827" x2="1171.3" y2="831"/><line x1="1102" y1="827" x2="1138.2" y2="845.8"/><line x1="1102" y1="827" x2="1040.8" y2="845.8"/><line x1="1102" y1="827" x2="1073.1" y2="861.7"/><line x1="1102" y1="827" x2="1042.4" y2="873.7"/><line x1="1102" y1="827" x2="1070.6" y2="875"/><line x1="1102" y1="827" x2="1099.5" y2="887.5"/><line x1="1102" y1="827" x2="1064.8" y2="889.7"/><line x1="1102" y1="827" x2="1123.5" y2="930.8"/><line x1="1102" y1="827" x2="1114" y2="946.7"/>
</g>
<g class="lb big">
<g id="c3-1"><rect x="1037.5" y="714.2" width="97.6" height="20"/><text x="1086.3" y="730">(Temp,Turb)</text></g>
<g id="c3-2"><rect x="1054.9" y="730" width="79.4" height="20"/><text x="1094.6" y="745.8">(Turb,Sal)</text></g>
<g id="c3-3"><rect x="1103.2" y="744" width="49" height="20"/><text x="1127.7" y="759.8">(Fluo)</text></g>
<g id="c3-4"><rect x="1014.2" y="745.8" width="87.6" height="20"/><text x="1058" y="761.6">(Fluo,Turb)</text></g>
<g id="c3-5"><rect x="1036.9" y="761.7" width="97.6" height="20"/><text x="1085.7" y="777.5">(Turb,Temp)</text></g>
<g id="c3-6"><rect x="1042.5" y="784.2" width="79.4" height="20"/><text x="1082.2" y="800">(Sal,Turb)</text></g>
<g id="c3-7"><rect x="1192.6" y="799.2" width="40.8" height="20"/><text x="1213" y="815">(Sal)</text></g>
<g id="c3-8"><rect x="895.6" y="811.7" width="69.2" height="20"/><text x="930.2" y="827.5">(Sal,Sal)</text></g>
<g id="c3-9"><rect x="937.9" y="808.3" width="77.6" height="20"/><text x="976.7" y="824.1">(Sal,Fluo)</text></g>
<g id="c3-10"><rect x="920.3" y="802.5" width="58.2" height="20"/><text x="949.4" y="818.3">Bottom</text></g>
<g id="c3-11"><rect x="1055.7" y="815.8" width="44.6" height="20"/><text x="1078" y="831.6">Cons</text></g>
<g id="c3-12"><rect x="1138.2" y="835.8" width="87.6" height="20"/><text x="1182" y="851.6">(Turb,Fluo)</text></g>
<g id="c3-13"><rect x="1171.3" y="821" width="89.4" height="20"/><text x="1216" y="836.8">(Turb,Turb)</text></g>
<g id="c3-14"><rect x="953.2" y="835.8" width="87.6" height="20"/><text x="997" y="851.6">(Temp,Sal)</text></g>
<g id="c3-15"><rect x="1017.6" y="875" width="106" height="20"/><text x="1070.6" y="890.8">(Temp,Temp)</text></g>
<g id="c3-16"><rect x="1029.3" y="861.7" width="87.6" height="20"/><text x="1073.1" y="877.5">(Sal,Temp)</text></g>
<g id="c3-17"><rect x="956.6" y="863.7" width="85.8" height="20"/><text x="999.5" y="879.5">(Fluo,Fluo)</text></g>
<g id="c3-18"><rect x="1051.6" y="887.5" width="95.8" height="20"/><text x="1099.5" y="903.3">(Temp,Fluo)</text></g>
<g id="c3-19"><rect x="1016.9" y="889.7" width="95.8" height="20"/><text x="1064.8" y="905.5">(Fluo,Temp)</text></g>
<g id="c3-20"><rect x="1098" y="930.8" width="51" height="20"/><text x="1123.5" y="946.6">(Turb)</text></g>
<g id="c3-21"><rect x="1075.2" y="946.7" width="77.6" height="20"/><text x="1114" y="962.5">(Fluo,Sal)</text></g>
</g>
<text class="dd" x="1277" y="720">d = 0.2</text>
</g>
<rect class="fr" x="883" y="714" width="397" height="255"/>

<!-- ===== d1 ===== -->
<g id="panel-d1" clip-path="url(#cd1)">
<path class="g" d="M14.5 1026V1281M78.6 1026V1281M142.7 1026V1281M270.9 1026V1281M335 1026V1281M397.8 1026V1281M7 1033H404M7 1090H404M7 1217H404M7 1267H404"/>
<path class="ax" d="M207 1026V1281M7 1153H404"/>
<g id="conn-d1" class="ar">
<line x1="207" y1="1153" x2="258.5" y2="1046.3"/><line x1="207" y1="1153" x2="259.5" y2="1055.8"/><line x1="207" y1="1153" x2="153" y2="1057.2"/><line x1="207" y1="1153" x2="163.4" y2="1072.8"/><line x1="207" y1="1153" x2="278.7" y2="1077.8"/><line x1="207" y1="1153" x2="295.6" y2="1082.5"/><line x1="207" y1="1153" x2="252.9" y2="1095.3"/><line x1="207" y1="1153" x2="131.6" y2="1108.3"/><line x1="207" y1="1153" x2="120.7" y2="1100"/><line x1="207" y1="1153" x2="119.6" y2="1123.3"/><line x1="207" y1="1153" x2="110.1" y2="1115.5"/><line x1="207" y1="1153" x2="128.7" y2="1131.7"/><line x1="207" y1="1153" x2="142.9" y2="1171.8"/><line x1="207" y1="1153" x2="300" y2="1185.5"/><line x1="207" y1="1153" x2="254.9" y2="1176.5"/><line x1="207" y1="1153" x2="115.5" y2="1218.3"/><line x1="207" y1="1153" x2="281.8" y2="1225.3"/><line x1="207" y1="1153" x2="154.7" y2="1248.8"/><line x1="207" y1="1153" x2="206.4" y2="1256.2"/><line x1="207" y1="1153" x2="209.3" y2="1250.8"/>
</g>
<g class="lb">
<g id="d1-1"><rect x="217.6" y="1040.8" width="83.8" height="15"/><text x="259.5" y="1052.8">(Temp,Temp)</text></g>
<g id="d1-2"><rect x="223.9" y="1031.3" width="69.2" height="15"/><text x="258.5" y="1043.3">(Sal,Temp)</text></g>
<g id="d1-3"><rect x="122.3" y="1042.2" width="61.4" height="15"/><text x="153" y="1054.2">(Sal,Fluo)</text></g>
<g id="d1-4"><rect x="125.5" y="1057.8" width="75.8" height="15"/><text x="163.4" y="1069.8">(Temp,Fluo)</text></g>
<g id="d1-5"><rect x="258.5" y="1062.8" width="40.4" height="15"/><text x="278.7" y="1074.8">(Turb)</text></g>
<g id="d1-6"><rect x="295.6" y="1075" width="54.8" height="15"/><text x="323" y="1087">(Sal,Sal)</text></g>
<g id="d1-7"><rect x="229.8" y="1080.3" width="46.2" height="15"/><text x="252.9" y="1092.3">Bottom</text></g>
<g id="d1-8"><rect x="54.4" y="1100.8" width="77.2" height="15"/><text x="93" y="1112.8">(Temp,Turb)</text></g>
<g id="d1-9"><rect x="52.9" y="1092.5" width="67.8" height="15"/><text x="86.8" y="1104.5">(Fluo,Fluo)</text></g>
<g id="d1-10"><rect x="43.8" y="1115.8" width="75.8" height="15"/><text x="81.7" y="1127.8">(Fluo,Temp)</text></g>
<g id="d1-11"><rect x="40.9" y="1108" width="69.2" height="15"/><text x="75.5" y="1120">(Fluo,Turb)</text></g>
<g id="d1-12"><rect x="67.3" y="1124.2" width="61.4" height="15"/><text x="98" y="1136.2">(Fluo,Sal)</text></g>
<g id="d1-13"><rect x="169.4" y="1146.7" width="35.4" height="15"/><text x="187.1" y="1158.7">Cons</text></g>
<g id="d1-14"><rect x="72.1" y="1164.3" width="70.8" height="15"/><text x="107.5" y="1176.3">(Turb,Turb)</text></g>
<g id="d1-15"><rect x="300" y="1178" width="39" height="15"/><text x="319.5" y="1190">(Fluo)</text></g>
<g id="d1-16"><rect x="254.9" y="1169" width="69.2" height="15"/><text x="289.5" y="1181">(Temp,Sal)</text></g>
<g id="d1-17"><rect x="83.1" y="1210.8" width="32.4" height="15"/><text x="99.3" y="1222.8">(Sal)</text></g>
<g id="d1-18"><rect x="281.8" y="1217.8" width="69.2" height="15"/><text x="316.4" y="1229.8">(Turb,Fluo)</text></g>
<g id="d1-19"><rect x="131.3" y="1248.8" width="46.8" height="15"/><text x="154.7" y="1260.8">(Temp)</text></g>
<g id="d1-20"><rect x="175" y="1256.2" width="62.8" height="15"/><text x="206.4" y="1268.2">(Sal,Turb)</text></g>
<g id="d1-21"><rect x="177.9" y="1250.8" width="62.8" height="15"/><text x="209.3" y="1262.8">(Turb,Sal)</text></g>
</g>
<text class="dd" x="401" y="1032">d = 0.2</text>
</g>
<rect class="fr" x="7" y="1026" width="397" height="255"/>

<!-- ===== d2 ===== -->
<g id="panel-d2" clip-path="url(#cd2)">
<path class="g" d="M459 1026V1281M518 1026V1281M577 1026V1281M695 1026V1281M754 1026V1281M813 1026V1281M450 1046H847M450 1105H847M450 1223H847"/>
<path class="ax" d="M636 1026V1281M450 1164H847"/>
<g id="conn-d2" class="ar">
<line x1="636" y1="1164" x2="744.7" y2="1045.8"/><line x1="636" y1="1164" x2="683" y2="1067.1"/><line x1="636" y1="1164" x2="663.3" y2="1067.1"/><line x1="636" y1="1164" x2="586.3" y2="1078.4"/><line x1="636" y1="1164" x2="625.8" y2="1110"/><line x1="636" y1="1164" x2="547.8" y2="1103"/><line x1="636" y1="1164" x2="571.1" y2="1111.7"/><line x1="636" y1="1164" x2="658.3" y2="1137.1"/><line x1="636" y1="1164" x2="587" y2="1137.7"/><line x1="636" y1="1164" x2="610.7" y2="1147.9"/><line x1="636" y1="1164" x2="718.9" y2="1145"/><line x1="636" y1="1164" x2="722" y2="1138.3"/><line x1="636" y1="1164" x2="746.2" y2="1134.2"/><line x1="636" y1="1164" x2="682.6" y2="1183.7"/><line x1="636" y1="1164" x2="673.7" y2="1200"/><line x1="636" y1="1164" x2="721.7" y2="1232.5"/><line x1="636" y1="1164" x2="716" y2="1227.5"/><line x1="636" y1="1164" x2="615.3" y2="1218.5"/><line x1="636" y1="1164" x2="746.1" y2="1258"/><line x1="636" y1="1164" x2="587" y2="1256.9"/><line x1="636" y1="1164" x2="591.3" y2="1256.9"/>
</g>
<g class="lb">
<g id="d2-1"><rect x="710.1" y="1030.8" width="69.2" height="15"/><text x="744.7" y="1042.8">(Temp,Sal)</text></g>
<g id="d2-2"><rect x="641.1" y="1052.1" width="83.8" height="15"/><text x="683" y="1064.1">(Temp,Temp)</text></g>
<g id="d2-3"><rect x="627.9" y="1052.1" width="70.8" height="15"/><text x="663.3" y="1064.1">(Turb,Turb)</text></g>
<g id="d2-4"><rect x="547.7" y="1063.4" width="77.2" height="15"/><text x="586.3" y="1075.4">(Temp,Turb)</text></g>
<g id="d2-5"><rect x="591.2" y="1095" width="69.2" height="15"/><text x="625.8" y="1107">(Fluo,Turb)</text></g>
<g id="d2-6"><rect x="508.8" y="1095.5" width="39" height="15"/><text x="528.3" y="1107.5">(Fluo)</text></g>
<g id="d2-7"><rect x="508.3" y="1104.2" width="62.8" height="15"/><text x="539.7" y="1116.2">(Sal,Turb)</text></g>
<g id="d2-8"><rect x="620.4" y="1122.1" width="75.8" height="15"/><text x="658.3" y="1134.1">(Temp,Fluo)</text></g>
<g id="d2-9"><rect x="554.6" y="1130.2" width="32.4" height="15"/><text x="570.8" y="1142.2">(Sal)</text></g>
<g id="d2-10"><rect x="549.3" y="1140.4" width="61.4" height="15"/><text x="580" y="1152.4">(Sal,Fluo)</text></g>
<g id="d2-11"><rect x="718.9" y="1137.5" width="77.2" height="15"/><text x="757.5" y="1149.5">(Turb,Temp)</text></g>
<g id="d2-12"><rect x="722" y="1130.8" width="62.8" height="15"/><text x="753.4" y="1142.8">(Turb,Sal)</text></g>
<g id="d2-13"><rect x="746.2" y="1126.7" width="46.2" height="15"/><text x="769.3" y="1138.7">Bottom</text></g>
<g id="d2-14"><rect x="599" y="1158.1" width="35.4" height="15"/><text x="616.7" y="1170.1">Cons</text></g>
<g id="d2-15"><rect x="682.6" y="1176.2" width="54.8" height="15"/><text x="710" y="1188.2">(Sal,Sal)</text></g>
<g id="d2-16"><rect x="673.7" y="1192.5" width="69.2" height="15"/><text x="708.3" y="1204.5">(Turb,Fluo)</text></g>
<g id="d2-17"><rect x="721.7" y="1225" width="75.8" height="15"/><text x="759.6" y="1237">(Fluo,Temp)</text></g>
<g id="d2-18"><rect x="716" y="1220" width="67.8" height="15"/><text x="749.9" y="1232">(Fluo,Fluo)</text></g>
<g id="d2-19"><rect x="580.7" y="1218.5" width="69.2" height="15"/><text x="615.3" y="1230.5">(Sal,Temp)</text></g>
<g id="d2-20"><rect x="746.1" y="1250.5" width="61.4" height="15"/><text x="776.8" y="1262.5">(Fluo,Sal)</text></g>
<g id="d2-21"><rect x="566.6" y="1256.9" width="46.8" height="15"/><text x="590" y="1268.9">(Temp)</text></g>
<g id="d2-22"><rect x="571.1" y="1256.9" width="40.4" height="15"/><text x="591.3" y="1268.9">(Turb)</text></g>
</g>
<text class="dd" x="844" y="1032">d = 0.2</text>
</g>
<rect class="fr" x="450" y="1026" width="397" height="255"/>

<!-- ===== d3 ===== -->
<g id="panel-d3" clip-path="url(#cd3)">
<path class="g" d="M931.5 1026V1281M969.5 1026V1281M1007.5 1026V1281M1045.5 1026V1281M1121.5 1026V1281M1159.5 1026V1281M1197.5 1026V1281M1235.5 1026V1281M1273.5 1026V1281M893 1058H1290M893 1096H1290M893 1134H1290M893 1172H1290M893 1248H1290"/>
<path class="ax" d="M1083.5 1026V1281M893 1210H1290"/>
<g id="conn-d3" class="ar">
<line x1="1083.5" y1="1210" x2="1103.5" y2="1047"/><line x1="1083.5" y1="1210" x2="1024.3" y2="1178.3"/><line x1="1083.5" y1="1210" x2="1100.4" y2="1188.3"/><line x1="1083.5" y1="1210" x2="1118.3" y2="1185"/><line x1="1083.5" y1="1210" x2="1119" y2="1205.8"/><line x1="1083.5" y1="1210" x2="1136.6" y2="1198.7"/><line x1="1083.5" y1="1210" x2="1048.1" y2="1213.8"/><line x1="1083.5" y1="1210" x2="1044.9" y2="1201.8"/><line x1="1083.5" y1="1210" x2="1097.3" y2="1215.5"/><line x1="1083.5" y1="1210" x2="1144.6" y2="1218.3"/><line x1="1083.5" y1="1210" x2="1040.9" y2="1223.3"/><line x1="1083.5" y1="1210" x2="1025.4" y2="1232.5"/><line x1="1083.5" y1="1210" x2="1072.9" y2="1230.3"/><line x1="1083.5" y1="1210" x2="1062.5" y2="1238.7"/><line x1="1083.5" y1="1210" x2="1142.6" y2="1243"/><line x1="1083.5" y1="1210" x2="1157.8" y2="1247.2"/><line x1="1083.5" y1="1210" x2="1099.1" y2="1259.7"/>
</g>
<g class="lb">
<g id="d3-1"><rect x="1080.4" y="1032" width="46.2" height="15"/><text x="1103.5" y="1044">Bottom</text></g>
<g id="d3-2"><rect x="977.5" y="1170.8" width="46.8" height="15"/><text x="1000.9" y="1182.8">(Temp)</text></g>
<g id="d3-3"><rect x="1084.2" y="1173.3" width="32.4" height="15"/><text x="1100.4" y="1185.3">(Sal)</text></g>
<g id="d3-4"><rect x="1118.3" y="1177.5" width="69.2" height="15"/><text x="1152.9" y="1189.5">(Fluo,Turb)</text></g>
<g id="d3-5"><rect x="1119" y="1198.3" width="62.8" height="15"/><text x="1150.4" y="1210.3">(Sal,Turb)</text></g>
<g id="d3-6"><rect x="1136.6" y="1191.2" width="77.2" height="15"/><text x="1175.2" y="1203.2">(Temp,Turb)</text></g>
<g id="d3-7"><rect x="978.9" y="1206.3" width="69.2" height="15"/><text x="1013.5" y="1218.3">(Sal,Temp)</text></g>
<g id="d3-8"><rect x="977.1" y="1194.3" width="67.8" height="15"/><text x="1011" y="1206.3">(Fluo,Fluo)</text></g>
<g id="d3-9"><rect x="1046.5" y="1203.8" width="35.4" height="15"/><text x="1064.2" y="1215.8">Cons</text></g>
<g id="d3-10"><rect x="1097.3" y="1208" width="62.8" height="15"/><text x="1128.7" y="1220">(Turb,Sal)</text></g>
<g id="d3-11"><rect x="1144.6" y="1210.8" width="70.8" height="15"/><text x="1180" y="1222.8">(Turb,Turb)</text></g>
<g id="d3-12"><rect x="965.1" y="1215.8" width="75.8" height="15"/><text x="1003" y="1227.8">(Fluo,Temp)</text></g>
<g id="d3-13"><rect x="964" y="1225" width="61.4" height="15"/><text x="994.7" y="1237">(Fluo,Sal)</text></g>
<g id="d3-14"><rect x="1045.5" y="1230.3" width="54.8" height="15"/><text x="1072.9" y="1242.3">(Sal,Sal)</text></g>
<g id="d3-15"><rect x="1027.9" y="1238.7" width="69.2" height="15"/><text x="1062.5" y="1250.7">(Turb,Fluo)</text></g>
<g id="d3-16"><rect x="1142.6" y="1235.5" width="83.8" height="15"/><text x="1184.5" y="1247.5">(Temp,Temp)</text></g>
<g id="d3-17"><rect x="1157.8" y="1239.7" width="69.2" height="15"/><text x="1192.4" y="1251.7">(Temp,Sal)</text></g>
<g id="d3-18"><rect x="1061.2" y="1259.7" width="75.8" height="15"/><text x="1099.1" y="1271.7">(Temp,Fluo)</text></g>
</g>
<text class="dd" x="1287" y="1032">d = 0.2</text>
</g>
<rect class="fr" x="893" y="1026" width="397" height="255"/>

<!-- ===== B1 ===== -->
<g id="panel-e1" clip-path="url(#ce1)">
<path class="g" d="M33 1414V1669M90 1414V1669M147 1414V1669M261 1414V1669M318 1414V1669M375 1414V1669M7 1446H404M7 1503H404M7 1617H404"/>
<path class="ax" d="M204 1414V1669M7 1560H404"/>
<g id="conn-e1" class="ar">
<line x1="204" y1="1560" x2="157.2" y2="1441.7"/><line x1="204" y1="1560" x2="216.1" y2="1436.3"/><line x1="204" y1="1560" x2="251.9" y2="1488.3"/><line x1="204" y1="1560" x2="256.4" y2="1480.8"/><line x1="204" y1="1560" x2="257.4" y2="1473"/><line x1="204" y1="1560" x2="130.3" y2="1502.7"/><line x1="204" y1="1560" x2="270.2" y2="1520.8"/><line x1="204" y1="1560" x2="272.5" y2="1537.5"/><line x1="204" y1="1560" x2="277.6" y2="1544.2"/><line x1="204" y1="1560" x2="263.3" y2="1537.2"/><line x1="204" y1="1560" x2="129.9" y2="1572.5"/><line x1="204" y1="1560" x2="276.4" y2="1590.8"/><line x1="204" y1="1560" x2="279.5" y2="1597.5"/><line x1="204" y1="1560" x2="274.7" y2="1608.7"/><line x1="204" y1="1560" x2="248.7" y2="1598.3"/><line x1="204" y1="1560" x2="276.7" y2="1603.3"/><line x1="204" y1="1560" x2="268.8" y2="1625"/><line x1="204" y1="1560" x2="154" y2="1634.7"/><line x1="204" y1="1560" x2="152.2" y2="1649.7"/>
</g>
<g class="lb">
<g id="e1-1"><rect x="118.6" y="1426.7" width="77.2" height="15"/><text x="157.2" y="1438.7">(Temp,Turb)</text></g>
<g id="e1-2"><rect x="184.7" y="1421.3" width="62.8" height="15"/><text x="216.1" y="1433.3">(Sal,Turb)</text></g>
<g id="e1-3"><rect x="210" y="1473.3" width="83.8" height="15"/><text x="251.9" y="1485.3">(Temp,Temp)</text></g>
<g id="e1-4"><rect x="221.8" y="1465.8" width="69.2" height="15"/><text x="256.4" y="1477.8">(Fluo,Turb)</text></g>
<g id="e1-5"><rect x="222" y="1458" width="70.8" height="15"/><text x="257.4" y="1470">(Turb,Turb)</text></g>
<g id="e1-6"><rect x="91.3" y="1495.2" width="39" height="15"/><text x="110.8" y="1507.2">(Fluo)</text></g>
<g id="e1-7"><rect x="270.2" y="1513.3" width="61.4" height="15"/><text x="300.9" y="1525.3">(Sal,Fluo)</text></g>
<g id="e1-8"><rect x="272.5" y="1530" width="69.2" height="15"/><text x="307.1" y="1542">(Sal,Temp)</text></g>
<g id="e1-9"><rect x="277.6" y="1536.7" width="54.8" height="15"/><text x="305" y="1548.7">(Sal,Sal)</text></g>
<g id="e1-10"><rect x="263.3" y="1529.7" width="46.2" height="15"/><text x="286.4" y="1541.7">Bottom</text></g>
<g id="e1-11"><rect x="167" y="1553" width="35.4" height="15"/><text x="184.7" y="1565">Cons</text></g>
<g id="e1-12"><rect x="97.5" y="1565" width="32.4" height="15"/><text x="113.7" y="1577">(Sal)</text></g>
<g id="e1-13"><rect x="276.4" y="1583.3" width="75.8" height="15"/><text x="314.3" y="1595.3">(Fluo,Temp)</text></g>
<g id="e1-14"><rect x="279.5" y="1590" width="61.4" height="15"/><text x="310.2" y="1602">(Fluo,Sal)</text></g>
<g id="e1-15"><rect x="274.7" y="1601.2" width="77.2" height="15"/><text x="313.3" y="1613.2">(Turb,Temp)</text></g>
<g id="e1-16"><rect x="248.7" y="1590.8" width="69.2" height="15"/><text x="283.3" y="1602.8">(Temp,Sal)</text></g>
<g id="e1-17"><rect x="276.7" y="1595.8" width="62.8" height="15"/><text x="308.1" y="1607.8">(Turb,Sal)</text></g>
<g id="e1-18"><rect x="234.2" y="1625" width="69.2" height="15"/><text x="268.8" y="1637">(Turb,Fluo)</text></g>
<g id="e1-19"><rect x="130.6" y="1634.7" width="46.8" height="15"/><text x="154" y="1646.7">(Temp)</text></g>
<g id="e1-20"><rect x="132" y="1649.7" width="40.4" height="15"/><text x="152.2" y="1661.7">(Turb)</text></g>
</g>
<text class="dd" x="401" y="1420">d = 0.2</text>
</g>
<rect class="fr" x="7" y="1414" width="397" height="260"/>

<!-- ===== B2 ===== -->
<g id="panel-e2" clip-path="url(#ce2)">
<path class="g" d="M500 1414V1669M543 1414V1669M586 1414V1669M629 1414V1669M672 1414V1669M715 1414V1669M758 1414V1669M801 1414V1669M844 1414V1669M450 1450H847M450 1536H847M450 1579H847M450 1622H847M450 1665H847"/>
<path class="ax" d="M648 1414V1669M450 1493H847"/>
<g id="conn-e2" class="ar">
<line x1="648" y1="1493" x2="677.3" y2="1443.5"/><line x1="648" y1="1493" x2="655" y2="1441.5"/><line x1="648" y1="1493" x2="604.8" y2="1434.2"/><line x1="648" y1="1493" x2="657" y2="1474.2"/><line x1="648" y1="1493" x2="662.9" y2="1463.2"/><line x1="648" y1="1493" x2="698.1" y2="1471.7"/><line x1="648" y1="1493" x2="622.8" y2="1474.5"/><line x1="648" y1="1493" x2="610.5" y2="1484.2"/><line x1="648" y1="1493" x2="580.9" y2="1495"/><line x1="648" y1="1493" x2="565.1" y2="1499.5"/><line x1="648" y1="1493" x2="703.2" y2="1485"/><line x1="648" y1="1493" x2="671.7" y2="1487.2"/><line x1="648" y1="1493" x2="700.2" y2="1501.3"/><line x1="648" y1="1493" x2="597.2" y2="1508.3"/><line x1="648" y1="1493" x2="649.2" y2="1500"/><line x1="648" y1="1493" x2="725.1" y2="1520.3"/><line x1="648" y1="1493" x2="561.1" y2="1545.8"/><line x1="648" y1="1493" x2="696.5" y2="1545.8"/><line x1="648" y1="1493" x2="687.2" y2="1556.7"/><line x1="648" y1="1493" x2="637" y2="1647.5"/>
</g>
<g class="lb">
<g id="e2-1"><rect x="646.6" y="1428.5" width="61.4" height="15"/><text x="677.3" y="1440.5">(Fluo,Sal)</text></g>
<g id="e2-2"><rect x="623.6" y="1426.5" width="62.8" height="15"/><text x="655" y="1438.5">(Turb,Sal)</text></g>
<g id="e2-3"><rect x="569.4" y="1419.2" width="70.8" height="15"/><text x="604.8" y="1431.2">(Turb,Turb)</text></g>
<g id="e2-4"><rect x="637.5" y="1459.2" width="39" height="15"/><text x="657" y="1471.2">(Fluo)</text></g>
<g id="e2-5"><rect x="628.3" y="1448.2" width="69.2" height="15"/><text x="662.9" y="1460.2">(Temp,Sal)</text></g>
<g id="e2-6"><rect x="698.1" y="1464.2" width="54.8" height="15"/><text x="725.5" y="1476.2">(Sal,Sal)</text></g>
<g id="e2-7"><rect x="545.6" y="1467" width="77.2" height="15"/><text x="584.2" y="1479">(Temp,Turb)</text></g>
<g id="e2-8"><rect x="541.3" y="1476.7" width="69.2" height="15"/><text x="575.9" y="1488.7">(Turb,Fluo)</text></g>
<g id="e2-9"><rect x="511.7" y="1487.5" width="69.2" height="15"/><text x="546.3" y="1499.5">(Sal,Temp)</text></g>
<g id="e2-10"><rect x="481.3" y="1492" width="83.8" height="15"/><text x="523.2" y="1504">(Temp,Temp)</text></g>
<g id="e2-11"><rect x="609.3" y="1486.7" width="35.4" height="15"/><text x="627" y="1498.7">Cons</text></g>
<g id="e2-12"><rect x="703.2" y="1477.5" width="77.2" height="15"/><text x="741.8" y="1489.5">(Turb,Temp)</text></g>
<g id="e2-13"><rect x="671.7" y="1479.7" width="75.8" height="15"/><text x="709.6" y="1491.7">(Fluo,Temp)</text></g>
<g id="e2-14"><rect x="700.2" y="1493.8" width="69.2" height="15"/><text x="734.8" y="1505.8">(Fluo,Turb)</text></g>
<g id="e2-15"><rect x="564.8" y="1500.8" width="32.4" height="15"/><text x="581" y="1512.8">(Sal)</text></g>
<g id="e2-16"><rect x="615.3" y="1500" width="67.8" height="15"/><text x="649.2" y="1512">(Fluo,Fluo)</text></g>
<g id="e2-17"><rect x="725.1" y="1512.8" width="62.8" height="15"/><text x="756.5" y="1524.8">(Sal,Turb)</text></g>
<g id="e2-18"><rect x="485.3" y="1538.3" width="75.8" height="15"/><text x="523.2" y="1550.3">(Temp,Fluo)</text></g>
<g id="e2-19"><rect x="676.3" y="1545.8" width="40.4" height="15"/><text x="696.5" y="1557.8">(Turb)</text></g>
<g id="e2-20"><rect x="656.5" y="1556.7" width="61.4" height="15"/><text x="687.2" y="1568.7">(Sal,Fluo)</text></g>
<g id="e2-21"><rect x="613.9" y="1647.5" width="46.2" height="15"/><text x="637" y="1659.5">Bottom</text></g>
</g>
<text class="dd" x="844" y="1420">d = 0.2</text>
</g>
<rect class="fr" x="450" y="1414" width="397" height="260"/>

<!-- ===== B3 ===== -->
<g id="panel-e3" clip-path="url(#ce3)">
<path class="g" d="M933 1414V1669M989 1414V1669M1045 1414V1669M1101 1414V1669M1213 1414V1669M1269 1414V1669M893 1439H1290M893 1495H1290M893 1607H1290M893 1663H1290"/>
<path class="ax" d="M1157 1414V1669M893 1551H1290"/>
<g id="conn-e3" class="ar">
<line x1="1157" y1="1551" x2="1099.8" y2="1436.7"/><line x1="1157" y1="1551" x2="1070.8" y2="1458.3"/><line x1="1157" y1="1551" x2="1165.5" y2="1455"/><line x1="1157" y1="1551" x2="1169.4" y2="1479.7"/><line x1="1157" y1="1551" x2="1229" y2="1477"/><line x1="1157" y1="1551" x2="1119" y2="1490"/><line x1="1157" y1="1551" x2="1178" y2="1518.5"/><line x1="1157" y1="1551" x2="1163.4" y2="1530.5"/><line x1="1157" y1="1551" x2="1146.3" y2="1520.8"/><line x1="1157" y1="1551" x2="1186.5" y2="1537.5"/><line x1="1157" y1="1551" x2="1134.6" y2="1549.2"/><line x1="1157" y1="1551" x2="1182.6" y2="1565"/><line x1="1157" y1="1551" x2="1219.6" y2="1576.7"/><line x1="1157" y1="1551" x2="1218.9" y2="1567.5"/><line x1="1157" y1="1551" x2="951" y2="1586.3"/><line x1="1157" y1="1551" x2="1159.9" y2="1578.8"/><line x1="1157" y1="1551" x2="1194.5" y2="1595.8"/><line x1="1157" y1="1551" x2="1082.3" y2="1617.2"/><line x1="1157" y1="1551" x2="1162.8" y2="1610.8"/><line x1="1157" y1="1551" x2="1144.2" y2="1618.8"/><line x1="1157" y1="1551" x2="1143.2" y2="1645.5"/>
</g>
<g class="lb">
<g id="e3-1"><rect x="1061.9" y="1421.7" width="75.8" height="15"/><text x="1099.8" y="1433.7">(Temp,Fluo)</text></g>
<g id="e3-2"><rect x="1040.1" y="1443.3" width="61.4" height="15"/><text x="1070.8" y="1455.3">(Sal,Fluo)</text></g>
<g id="e3-3"><rect x="1142.1" y="1440" width="46.8" height="15"/><text x="1165.5" y="1452">(Temp)</text></g>
<g id="e3-4"><rect x="1134.8" y="1464.7" width="69.2" height="15"/><text x="1169.4" y="1476.7">(Turb,Fluo)</text></g>
<g id="e3-5"><rect x="1229" y="1469.5" width="70.8" height="15"/><text x="1264.4" y="1481.5">(Turb,Turb)</text></g>
<g id="e3-6"><rect x="1087.6" y="1475" width="62.8" height="15"/><text x="1119" y="1487">(Sal,Turb)</text></g>
<g id="e3-7"><rect x="1139.4" y="1503.5" width="77.2" height="15"/><text x="1178" y="1515.5">(Temp,Turb)</text></g>
<g id="e3-8"><rect x="1128.8" y="1515.5" width="69.2" height="15"/><text x="1163.4" y="1527.5">(Sal,Temp)</text></g>
<g id="e3-9"><rect x="1112.4" y="1505.8" width="67.8" height="15"/><text x="1146.3" y="1517.8">(Fluo,Fluo)</text></g>
<g id="e3-10"><rect x="1186.5" y="1530" width="54.8" height="15"/><text x="1213.9" y="1542">(Sal,Sal)</text></g>
<g id="e3-11"><rect x="1119.3" y="1542.5" width="35.4" height="15"/><text x="1137" y="1554.5">Cons</text></g>
<g id="e3-12"><rect x="1102.2" y="1541.7" width="32.4" height="15"/><text x="1118.4" y="1553.7">(Sal)</text></g>
<g id="e3-13"><rect x="1182.6" y="1557.5" width="39" height="15"/><text x="1202.1" y="1569.5">(Fluo)</text></g>
<g id="e3-14"><rect x="1219.6" y="1569.2" width="61.4" height="15"/><text x="1250.3" y="1581.2">(Fluo,Sal)</text></g>
<g id="e3-15"><rect x="1218.9" y="1560" width="62.8" height="15"/><text x="1250.3" y="1572">(Turb,Sal)</text></g>
<g id="e3-16"><rect x="904.8" y="1578.8" width="46.2" height="15"/><text x="927.9" y="1590.8">Bottom</text></g>
<g id="e3-17"><rect x="1121.3" y="1578.8" width="77.2" height="15"/><text x="1159.9" y="1590.8">(Turb,Temp)</text></g>
<g id="e3-18"><rect x="1159.9" y="1595.8" width="69.2" height="15"/><text x="1194.5" y="1607.8">(Temp,Sal)</text></g>
<g id="e3-19"><rect x="1041.9" y="1609.7" width="40.4" height="15"/><text x="1062.1" y="1621.7">(Turb)</text></g>
<g id="e3-20"><rect x="1124.9" y="1610.8" width="75.8" height="15"/><text x="1162.8" y="1622.8">(Fluo,Temp)</text></g>
<g id="e3-21"><rect x="1109.6" y="1618.8" width="69.2" height="15"/><text x="1144.2" y="1630.8">(Fluo,Turb)</text></g>
<g id="e3-22"><rect x="1101.3" y="1645.5" width="83.8" height="15"/><text x="1143.2" y="1657.5">(Temp,Temp)</text></g>
</g>
<text class="dd" x="1287" y="1420">d = 0.2</text>
</g>
<rect class="fr" x="893" y="1414" width="397" height="260"/>
</svg>
